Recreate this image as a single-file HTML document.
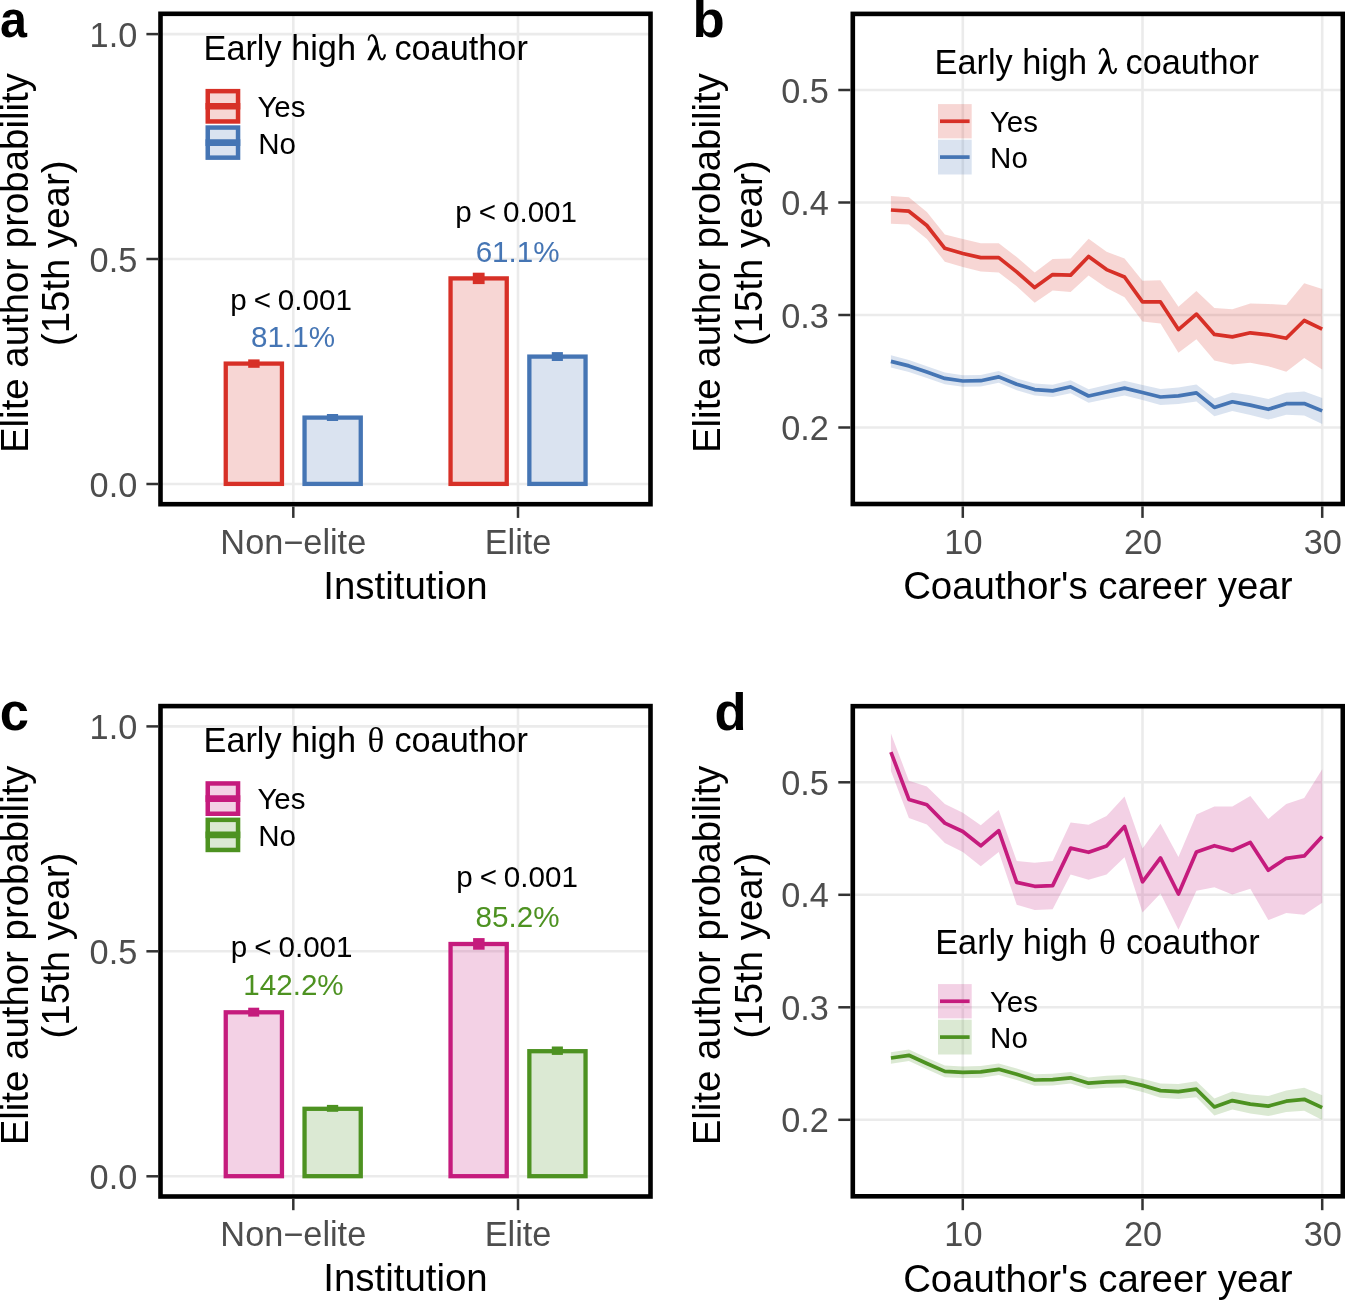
<!DOCTYPE html><html><head><meta charset="utf-8"><title>Figure</title><style>html,body{margin:0;padding:0;background:#fff;font-family:"Liberation Sans", sans-serif;}svg{display:block;will-change:transform;}</style></head><body>
<svg width="1345" height="1300" viewBox="0 0 1345 1300">
<rect x="0" y="0" width="1345" height="1300" fill="#fff"/>
<line x1="160.50" y1="34.10" x2="650.50" y2="34.10" stroke="#EBEBEB" stroke-width="2.6" stroke-linecap="butt"/>
<line x1="160.50" y1="259.00" x2="650.50" y2="259.00" stroke="#EBEBEB" stroke-width="2.6" stroke-linecap="butt"/>
<line x1="160.50" y1="484.00" x2="650.50" y2="484.00" stroke="#EBEBEB" stroke-width="2.6" stroke-linecap="butt"/>
<line x1="293.30" y1="13.80" x2="293.30" y2="504.20" stroke="#EBEBEB" stroke-width="2.6" stroke-linecap="butt"/>
<line x1="518.00" y1="13.80" x2="518.00" y2="504.20" stroke="#EBEBEB" stroke-width="2.6" stroke-linecap="butt"/>
<rect x="225.75" y="363.60" width="56.20" height="120.30" fill="rgba(215,48,39,0.2)" stroke="#D73027" stroke-width="4.3"/>
<rect x="248.20" y="359.40" width="11.40" height="8.40" fill="#D73027" stroke="none" stroke-width="0"/>
<rect x="304.55" y="417.60" width="56.20" height="66.30" fill="rgba(69,117,180,0.2)" stroke="#4575B4" stroke-width="4.3"/>
<rect x="326.90" y="414.00" width="11.20" height="7.00" fill="#4575B4" stroke="none" stroke-width="0"/>
<rect x="450.55" y="278.40" width="56.20" height="205.50" fill="rgba(215,48,39,0.2)" stroke="#D73027" stroke-width="4.3"/>
<rect x="472.80" y="272.70" width="11.80" height="11.40" fill="#D73027" stroke="none" stroke-width="0"/>
<rect x="529.35" y="356.60" width="56.20" height="127.30" fill="rgba(69,117,180,0.2)" stroke="#4575B4" stroke-width="4.3"/>
<rect x="551.80" y="352.10" width="11.10" height="8.90" fill="#4575B4" stroke="none" stroke-width="0"/>
<text x="291.10" y="309.50" font-size="29.6" fill="#000" text-anchor="middle" font-weight="normal" font-family="Liberation Sans, sans-serif" word-spacing="-1.3">p &lt; 0.001</text>
<text x="293.00" y="347.30" font-size="29.6" fill="#4575B4" text-anchor="middle" font-weight="normal" font-family="Liberation Sans, sans-serif" word-spacing="0">81.1%</text>
<text x="516.20" y="222.10" font-size="29.6" fill="#000" text-anchor="middle" font-weight="normal" font-family="Liberation Sans, sans-serif" word-spacing="-1.3">p &lt; 0.001</text>
<text x="517.60" y="262.00" font-size="29.6" fill="#4575B4" text-anchor="middle" font-weight="normal" font-family="Liberation Sans, sans-serif" word-spacing="0">61.1%</text>
<text x="203.50" y="60.30" font-size="34.3" fill="#000" text-anchor="start" font-weight="normal" font-family="Liberation Sans, sans-serif" >Early high</text>
<text x="394.40" y="60.30" font-size="34.3" fill="#000" text-anchor="start" font-weight="normal" font-family="Liberation Sans, sans-serif" >coauthor</text>
<g transform="translate(0.00,0.00)"><g fill="none" stroke="#000" stroke-linecap="butt" stroke-linejoin="round"><path d="M368.5 40.6 C368.8 37.4 370.0 35.2 372.0 35.2" stroke-width="1.8"/><path d="M371.6 35.2 C374.6 35.2 375.7 38.0 376.5 42.0 L377.9 50.2" stroke-width="2.6"/><path d="M377.8 49.8 C378.7 55.5 379.8 59.3 382.0 59.3 C383.6 59.3 384.5 57.5 385.0 54.3" stroke-width="2.2"/></g><polygon points="375.3,44.4 378.1,46.8 370.8,60.2 367.2,60.2" fill="#000"/></g>
<rect x="207.75" y="91.15" width="30.30" height="30.30" fill="rgba(215,48,39,0.2)" stroke="#D73027" stroke-width="4.5"/>
<line x1="205.50" y1="106.30" x2="240.30" y2="106.30" stroke="#D73027" stroke-width="6.6" stroke-linecap="butt"/>
<text x="257.40" y="116.80" font-size="29.5" fill="#000" text-anchor="start" font-weight="normal" font-family="Liberation Sans, sans-serif" >Yes</text>
<rect x="207.75" y="127.55" width="30.30" height="30.10" fill="rgba(69,117,180,0.2)" stroke="#4575B4" stroke-width="4.5"/>
<line x1="205.50" y1="142.60" x2="240.30" y2="142.60" stroke="#4575B4" stroke-width="6.6" stroke-linecap="butt"/>
<text x="258.30" y="153.60" font-size="29.5" fill="#000" text-anchor="start" font-weight="normal" font-family="Liberation Sans, sans-serif" >No</text>
<rect x="160.50" y="13.80" width="490.00" height="490.40" fill="none" stroke="#000" stroke-width="4.6"/>
<line x1="146.40" y1="34.10" x2="158.20" y2="34.10" stroke="#333333" stroke-width="2.5" stroke-linecap="butt"/>
<text x="137.30" y="46.60" font-size="34.3" fill="#4D4D4D" text-anchor="end" font-weight="normal" font-family="Liberation Sans, sans-serif" >1.0</text>
<line x1="146.40" y1="259.00" x2="158.20" y2="259.00" stroke="#333333" stroke-width="2.5" stroke-linecap="butt"/>
<text x="137.30" y="271.50" font-size="34.3" fill="#4D4D4D" text-anchor="end" font-weight="normal" font-family="Liberation Sans, sans-serif" >0.5</text>
<line x1="146.40" y1="484.00" x2="158.20" y2="484.00" stroke="#333333" stroke-width="2.5" stroke-linecap="butt"/>
<text x="137.30" y="496.50" font-size="34.3" fill="#4D4D4D" text-anchor="end" font-weight="normal" font-family="Liberation Sans, sans-serif" >0.0</text>
<line x1="293.30" y1="506.50" x2="293.30" y2="517.90" stroke="#333333" stroke-width="2.5" stroke-linecap="butt"/>
<text x="293.30" y="553.70" font-size="34.3" fill="#4D4D4D" text-anchor="middle" font-weight="normal" font-family="Liberation Sans, sans-serif" >Non&#8722;elite</text>
<line x1="518.00" y1="506.50" x2="518.00" y2="517.90" stroke="#333333" stroke-width="2.5" stroke-linecap="butt"/>
<text x="518.00" y="553.70" font-size="34.3" fill="#4D4D4D" text-anchor="middle" font-weight="normal" font-family="Liberation Sans, sans-serif" >Elite</text>
<text x="405.50" y="599.10" font-size="38.4" fill="#000" text-anchor="middle" font-weight="normal" font-family="Liberation Sans, sans-serif" >Institution</text>
<text transform="translate(28.00,263.10) rotate(-90)" font-size="38.4" font-family="Liberation Sans, sans-serif" text-anchor="middle" fill="#000">Elite author probability</text>
<text transform="translate(69.20,253.30) rotate(-90)" font-size="38.4" font-family="Liberation Sans, sans-serif" text-anchor="middle" fill="#000">(15th year)</text>
<text transform="translate(0.00,36.90) scale(0.95,1.03)" font-size="51" font-weight="bold" font-family="Liberation Sans, sans-serif" fill="#000">a</text>
<line x1="160.50" y1="726.40" x2="650.50" y2="726.40" stroke="#EBEBEB" stroke-width="2.6" stroke-linecap="butt"/>
<line x1="160.50" y1="951.30" x2="650.50" y2="951.30" stroke="#EBEBEB" stroke-width="2.6" stroke-linecap="butt"/>
<line x1="160.50" y1="1176.30" x2="650.50" y2="1176.30" stroke="#EBEBEB" stroke-width="2.6" stroke-linecap="butt"/>
<line x1="293.30" y1="706.10" x2="293.30" y2="1196.50" stroke="#EBEBEB" stroke-width="2.6" stroke-linecap="butt"/>
<line x1="518.00" y1="706.10" x2="518.00" y2="1196.50" stroke="#EBEBEB" stroke-width="2.6" stroke-linecap="butt"/>
<rect x="225.75" y="1012.30" width="56.20" height="163.90" fill="rgba(197,27,125,0.2)" stroke="#C51B7D" stroke-width="4.3"/>
<rect x="248.20" y="1007.70" width="11.00" height="8.90" fill="#C51B7D" stroke="none" stroke-width="0"/>
<rect x="304.55" y="1108.80" width="56.20" height="67.40" fill="rgba(77,146,33,0.2)" stroke="#4D9221" stroke-width="4.3"/>
<rect x="326.90" y="1104.90" width="11.30" height="6.90" fill="#4D9221" stroke="none" stroke-width="0"/>
<rect x="450.55" y="944.00" width="56.20" height="232.20" fill="rgba(197,27,125,0.2)" stroke="#C51B7D" stroke-width="4.3"/>
<rect x="473.10" y="938.10" width="11.50" height="11.60" fill="#C51B7D" stroke="none" stroke-width="0"/>
<rect x="529.35" y="1051.20" width="56.20" height="125.00" fill="rgba(77,146,33,0.2)" stroke="#4D9221" stroke-width="4.3"/>
<rect x="551.80" y="1046.50" width="11.10" height="8.40" fill="#4D9221" stroke="none" stroke-width="0"/>
<text x="291.70" y="957.40" font-size="29.6" fill="#000" text-anchor="middle" font-weight="normal" font-family="Liberation Sans, sans-serif" word-spacing="-1.3">p &lt; 0.001</text>
<text x="293.50" y="995.00" font-size="29.6" fill="#4D9221" text-anchor="middle" font-weight="normal" font-family="Liberation Sans, sans-serif" word-spacing="0">142.2%</text>
<text x="517.10" y="886.70" font-size="29.6" fill="#000" text-anchor="middle" font-weight="normal" font-family="Liberation Sans, sans-serif" word-spacing="-1.3">p &lt; 0.001</text>
<text x="517.50" y="926.90" font-size="29.6" fill="#4D9221" text-anchor="middle" font-weight="normal" font-family="Liberation Sans, sans-serif" word-spacing="0">85.2%</text>
<text x="203.50" y="751.60" font-size="34.3" fill="#000" text-anchor="start" font-weight="normal" font-family="Liberation Sans, sans-serif" >Early high</text>
<text x="394.40" y="751.60" font-size="34.3" fill="#000" text-anchor="start" font-weight="normal" font-family="Liberation Sans, sans-serif" >coauthor</text>
<text x="375.80" y="751.60" font-size="34.986" fill="#000" text-anchor="middle" font-weight="normal" font-family="Liberation Serif, sans-serif" >&#952;</text>
<rect x="207.75" y="783.45" width="30.30" height="30.30" fill="rgba(197,27,125,0.2)" stroke="#C51B7D" stroke-width="4.5"/>
<line x1="205.50" y1="798.60" x2="240.30" y2="798.60" stroke="#C51B7D" stroke-width="6.6" stroke-linecap="butt"/>
<text x="257.40" y="809.10" font-size="29.5" fill="#000" text-anchor="start" font-weight="normal" font-family="Liberation Sans, sans-serif" >Yes</text>
<rect x="207.75" y="819.85" width="30.30" height="30.10" fill="rgba(77,146,33,0.2)" stroke="#4D9221" stroke-width="4.5"/>
<line x1="205.50" y1="834.90" x2="240.30" y2="834.90" stroke="#4D9221" stroke-width="6.6" stroke-linecap="butt"/>
<text x="258.30" y="845.90" font-size="29.5" fill="#000" text-anchor="start" font-weight="normal" font-family="Liberation Sans, sans-serif" >No</text>
<rect x="160.50" y="706.10" width="490.00" height="490.40" fill="none" stroke="#000" stroke-width="4.6"/>
<line x1="146.40" y1="726.40" x2="158.20" y2="726.40" stroke="#333333" stroke-width="2.5" stroke-linecap="butt"/>
<text x="137.30" y="738.90" font-size="34.3" fill="#4D4D4D" text-anchor="end" font-weight="normal" font-family="Liberation Sans, sans-serif" >1.0</text>
<line x1="146.40" y1="951.30" x2="158.20" y2="951.30" stroke="#333333" stroke-width="2.5" stroke-linecap="butt"/>
<text x="137.30" y="963.80" font-size="34.3" fill="#4D4D4D" text-anchor="end" font-weight="normal" font-family="Liberation Sans, sans-serif" >0.5</text>
<line x1="146.40" y1="1176.30" x2="158.20" y2="1176.30" stroke="#333333" stroke-width="2.5" stroke-linecap="butt"/>
<text x="137.30" y="1188.80" font-size="34.3" fill="#4D4D4D" text-anchor="end" font-weight="normal" font-family="Liberation Sans, sans-serif" >0.0</text>
<line x1="293.30" y1="1198.80" x2="293.30" y2="1210.20" stroke="#333333" stroke-width="2.5" stroke-linecap="butt"/>
<text x="293.30" y="1246.00" font-size="34.3" fill="#4D4D4D" text-anchor="middle" font-weight="normal" font-family="Liberation Sans, sans-serif" >Non&#8722;elite</text>
<line x1="518.00" y1="1198.80" x2="518.00" y2="1210.20" stroke="#333333" stroke-width="2.5" stroke-linecap="butt"/>
<text x="518.00" y="1246.00" font-size="34.3" fill="#4D4D4D" text-anchor="middle" font-weight="normal" font-family="Liberation Sans, sans-serif" >Elite</text>
<text x="405.50" y="1291.40" font-size="38.4" fill="#000" text-anchor="middle" font-weight="normal" font-family="Liberation Sans, sans-serif" >Institution</text>
<text transform="translate(28.00,955.40) rotate(-90)" font-size="38.4" font-family="Liberation Sans, sans-serif" text-anchor="middle" fill="#000">Elite author probability</text>
<text transform="translate(69.20,945.60) rotate(-90)" font-size="38.4" font-family="Liberation Sans, sans-serif" text-anchor="middle" fill="#000">(15th year)</text>
<text transform="translate(-0.30,729.90) scale(1.03,1.04)" font-size="51" font-weight="bold" font-family="Liberation Sans, sans-serif" fill="#000">c</text>
<line x1="852.80" y1="90.00" x2="1342.80" y2="90.00" stroke="#EBEBEB" stroke-width="2.6" stroke-linecap="butt"/>
<line x1="852.80" y1="202.50" x2="1342.80" y2="202.50" stroke="#EBEBEB" stroke-width="2.6" stroke-linecap="butt"/>
<line x1="852.80" y1="315.00" x2="1342.80" y2="315.00" stroke="#EBEBEB" stroke-width="2.6" stroke-linecap="butt"/>
<line x1="852.80" y1="427.50" x2="1342.80" y2="427.50" stroke="#EBEBEB" stroke-width="2.6" stroke-linecap="butt"/>
<line x1="962.80" y1="13.90" x2="962.80" y2="504.00" stroke="#EBEBEB" stroke-width="2.6" stroke-linecap="butt"/>
<line x1="1142.50" y1="13.90" x2="1142.50" y2="504.00" stroke="#EBEBEB" stroke-width="2.6" stroke-linecap="butt"/>
<line x1="1322.20" y1="13.90" x2="1322.20" y2="504.00" stroke="#EBEBEB" stroke-width="2.6" stroke-linecap="butt"/>
<polygon points="890.92,196.10 908.89,197.30 926.86,212.10 944.83,234.40 962.80,238.90 980.77,243.30 998.74,243.30 1016.71,257.10 1034.68,272.40 1052.65,259.10 1070.62,258.50 1088.59,238.70 1106.56,251.70 1124.53,258.60 1142.50,280.80 1160.47,280.30 1178.44,306.70 1196.41,290.90 1214.38,307.90 1232.35,309.30 1250.32,303.50 1268.29,304.00 1286.26,305.00 1304.23,283.20 1322.20,289.00 1322.20,369.60 1304.23,358.00 1286.26,371.70 1268.29,366.30 1250.32,362.80 1232.35,364.40 1214.38,360.50 1196.41,339.20 1178.44,352.80 1160.47,323.40 1142.50,321.40 1124.53,297.30 1106.56,288.00 1088.59,275.40 1070.62,292.10 1052.65,290.60 1034.68,302.80 1016.71,286.20 998.74,272.40 980.77,271.40 962.80,266.90 944.83,261.70 926.86,238.90 908.89,224.60 890.92,223.70" fill="rgba(215,48,39,0.2)" stroke="none"/>
<polygon points="890.92,355.20 908.89,359.90 926.86,366.30 944.83,372.60 962.80,375.20 980.77,374.90 998.74,371.10 1016.71,378.40 1034.68,383.60 1052.65,384.70 1070.62,380.30 1088.59,389.30 1106.56,385.00 1124.53,380.80 1142.50,384.90 1160.47,389.10 1178.44,387.60 1196.41,384.40 1214.38,398.60 1232.35,392.50 1250.32,395.30 1268.29,399.00 1286.26,392.70 1304.23,391.50 1322.20,397.90 1322.20,423.90 1304.23,415.50 1286.26,414.70 1268.29,419.60 1250.32,414.90 1232.35,411.10 1214.38,416.20 1196.41,401.40 1178.44,404.00 1160.47,404.90 1142.50,400.10 1124.53,395.40 1106.56,399.00 1088.59,402.70 1070.62,393.30 1052.65,397.10 1034.68,395.60 1016.71,390.20 998.74,382.70 980.77,386.50 962.80,386.80 944.83,384.20 926.86,377.90 908.89,371.90 890.92,367.60" fill="rgba(69,117,180,0.2)" stroke="none"/>
<polyline points="890.92,210.00 908.89,211.20 926.86,225.50 944.83,248.30 962.80,253.50 980.77,257.60 998.74,257.60 1016.71,271.90 1034.68,287.60 1052.65,274.60 1070.62,275.10 1088.59,256.50 1106.56,269.60 1124.53,277.00 1142.50,301.90 1160.47,301.90 1178.44,329.60 1196.41,314.10 1214.38,334.40 1232.35,336.90 1250.32,332.80 1268.29,334.80 1286.26,338.30 1304.23,320.50 1322.20,329.20" fill="none" stroke="#D73027" stroke-width="3.7" stroke-linejoin="round" stroke-linecap="butt"/>
<polyline points="890.92,361.40 908.89,365.90 926.86,372.10 944.83,378.40 962.80,381.00 980.77,380.70 998.74,376.90 1016.71,384.30 1034.68,389.60 1052.65,390.90 1070.62,386.80 1088.59,396.00 1106.56,392.00 1124.53,388.10 1142.50,392.50 1160.47,397.00 1178.44,395.80 1196.41,392.90 1214.38,407.40 1232.35,401.80 1250.32,405.10 1268.29,409.30 1286.26,403.70 1304.23,403.50 1322.20,410.90" fill="none" stroke="#4575B4" stroke-width="3.7" stroke-linejoin="round" stroke-linecap="butt"/>
<text x="934.60" y="74.20" font-size="34.3" fill="#000" text-anchor="start" font-weight="normal" font-family="Liberation Sans, sans-serif" >Early high</text>
<text x="1125.50" y="74.20" font-size="34.3" fill="#000" text-anchor="start" font-weight="normal" font-family="Liberation Sans, sans-serif" >coauthor</text>
<g transform="translate(731.10,13.90)"><g fill="none" stroke="#000" stroke-linecap="butt" stroke-linejoin="round"><path d="M368.5 40.6 C368.8 37.4 370.0 35.2 372.0 35.2" stroke-width="1.8"/><path d="M371.6 35.2 C374.6 35.2 375.7 38.0 376.5 42.0 L377.9 50.2" stroke-width="2.6"/><path d="M377.8 49.8 C378.7 55.5 379.8 59.3 382.0 59.3 C383.6 59.3 384.5 57.5 385.0 54.3" stroke-width="2.2"/></g><polygon points="375.3,44.4 378.1,46.8 370.8,60.2 367.2,60.2" fill="#000"/></g>
<rect x="938.00" y="104.10" width="33.70" height="34.30" fill="rgba(215,48,39,0.2)" stroke="none" stroke-width="0"/>
<line x1="940.00" y1="121.25" x2="969.60" y2="121.25" stroke="#D73027" stroke-width="3.7" stroke-linecap="butt"/>
<text x="989.90" y="131.70" font-size="29.5" fill="#000" text-anchor="start" font-weight="normal" font-family="Liberation Sans, sans-serif" >Yes</text>
<rect x="938.00" y="139.70" width="33.70" height="34.80" fill="rgba(69,117,180,0.2)" stroke="none" stroke-width="0"/>
<line x1="940.00" y1="157.10" x2="969.60" y2="157.10" stroke="#4575B4" stroke-width="3.7" stroke-linecap="butt"/>
<text x="990.10" y="167.80" font-size="29.5" fill="#000" text-anchor="start" font-weight="normal" font-family="Liberation Sans, sans-serif" >No</text>
<rect x="852.80" y="13.90" width="490.00" height="490.10" fill="none" stroke="#000" stroke-width="4.6"/>
<line x1="838.30" y1="90.00" x2="850.50" y2="90.00" stroke="#333333" stroke-width="2.5" stroke-linecap="butt"/>
<text x="828.90" y="102.60" font-size="34.3" fill="#4D4D4D" text-anchor="end" font-weight="normal" font-family="Liberation Sans, sans-serif" >0.5</text>
<line x1="838.30" y1="202.50" x2="850.50" y2="202.50" stroke="#333333" stroke-width="2.5" stroke-linecap="butt"/>
<text x="828.90" y="215.10" font-size="34.3" fill="#4D4D4D" text-anchor="end" font-weight="normal" font-family="Liberation Sans, sans-serif" >0.4</text>
<line x1="838.30" y1="315.00" x2="850.50" y2="315.00" stroke="#333333" stroke-width="2.5" stroke-linecap="butt"/>
<text x="828.90" y="327.60" font-size="34.3" fill="#4D4D4D" text-anchor="end" font-weight="normal" font-family="Liberation Sans, sans-serif" >0.3</text>
<line x1="838.30" y1="427.50" x2="850.50" y2="427.50" stroke="#333333" stroke-width="2.5" stroke-linecap="butt"/>
<text x="828.90" y="440.10" font-size="34.3" fill="#4D4D4D" text-anchor="end" font-weight="normal" font-family="Liberation Sans, sans-serif" >0.2</text>
<line x1="962.80" y1="506.30" x2="962.80" y2="517.90" stroke="#333333" stroke-width="2.5" stroke-linecap="butt"/>
<text x="963.40" y="553.70" font-size="34.3" fill="#4D4D4D" text-anchor="middle" font-weight="normal" font-family="Liberation Sans, sans-serif" >10</text>
<line x1="1142.50" y1="506.30" x2="1142.50" y2="517.90" stroke="#333333" stroke-width="2.5" stroke-linecap="butt"/>
<text x="1143.10" y="553.70" font-size="34.3" fill="#4D4D4D" text-anchor="middle" font-weight="normal" font-family="Liberation Sans, sans-serif" >20</text>
<line x1="1322.20" y1="506.30" x2="1322.20" y2="517.90" stroke="#333333" stroke-width="2.5" stroke-linecap="butt"/>
<text x="1322.80" y="553.70" font-size="34.3" fill="#4D4D4D" text-anchor="middle" font-weight="normal" font-family="Liberation Sans, sans-serif" >30</text>
<text x="1097.80" y="599.30" font-size="38.4" fill="#000" text-anchor="middle" font-weight="normal" font-family="Liberation Sans, sans-serif" >Coauthor's career year</text>
<text transform="translate(720.00,263.10) rotate(-90)" font-size="38.4" font-family="Liberation Sans, sans-serif" text-anchor="middle" fill="#000">Elite author probability</text>
<text transform="translate(761.50,253.30) rotate(-90)" font-size="38.4" font-family="Liberation Sans, sans-serif" text-anchor="middle" fill="#000">(15th year)</text>
<text transform="translate(692.50,36.50) scale(1.035,1)" font-size="51" font-weight="bold" font-family="Liberation Sans, sans-serif" fill="#000">b</text>
<line x1="852.80" y1="782.30" x2="1342.80" y2="782.30" stroke="#EBEBEB" stroke-width="2.6" stroke-linecap="butt"/>
<line x1="852.80" y1="894.80" x2="1342.80" y2="894.80" stroke="#EBEBEB" stroke-width="2.6" stroke-linecap="butt"/>
<line x1="852.80" y1="1007.30" x2="1342.80" y2="1007.30" stroke="#EBEBEB" stroke-width="2.6" stroke-linecap="butt"/>
<line x1="852.80" y1="1119.80" x2="1342.80" y2="1119.80" stroke="#EBEBEB" stroke-width="2.6" stroke-linecap="butt"/>
<line x1="962.80" y1="706.20" x2="962.80" y2="1196.30" stroke="#EBEBEB" stroke-width="2.6" stroke-linecap="butt"/>
<line x1="1142.50" y1="706.20" x2="1142.50" y2="1196.30" stroke="#EBEBEB" stroke-width="2.6" stroke-linecap="butt"/>
<line x1="1322.20" y1="706.20" x2="1322.20" y2="1196.30" stroke="#EBEBEB" stroke-width="2.6" stroke-linecap="butt"/>
<polygon points="890.92,733.40 908.89,780.70 926.86,786.40 944.83,803.90 962.80,812.80 980.77,825.30 998.74,810.10 1016.71,861.00 1034.68,862.80 1052.65,861.00 1070.62,822.60 1088.59,824.70 1106.56,816.00 1124.53,796.40 1142.50,848.60 1160.47,823.80 1178.44,856.90 1196.41,814.40 1214.38,806.40 1232.35,806.40 1250.32,796.00 1268.29,819.00 1286.26,804.10 1304.23,797.90 1322.20,769.30 1322.20,902.70 1304.23,914.70 1286.26,913.00 1268.29,920.10 1250.32,888.80 1232.35,894.60 1214.38,887.30 1196.41,890.70 1178.44,929.80 1160.47,893.40 1142.50,912.40 1124.53,857.30 1106.56,874.60 1088.59,879.80 1070.62,874.40 1052.65,909.20 1034.68,910.00 1016.71,904.70 998.74,852.00 980.77,866.30 962.80,852.00 944.83,843.10 926.86,824.40 908.89,818.10 890.92,770.90" fill="rgba(197,27,125,0.2)" stroke="none"/>
<polygon points="890.92,1052.20 908.89,1049.50 926.86,1057.70 944.83,1065.60 962.80,1066.50 980.77,1066.10 998.74,1063.50 1016.71,1068.50 1034.68,1074.20 1052.65,1073.80 1070.62,1072.00 1088.59,1077.40 1106.56,1075.80 1124.53,1075.00 1142.50,1078.70 1160.47,1083.50 1178.44,1084.10 1196.41,1081.20 1214.38,1098.50 1232.35,1091.60 1250.32,1094.60 1268.29,1096.10 1286.26,1090.50 1304.23,1087.80 1322.20,1095.30 1322.20,1119.90 1304.23,1110.80 1286.26,1111.90 1268.29,1116.10 1250.32,1113.60 1232.35,1109.60 1214.38,1115.50 1196.41,1097.20 1178.44,1099.10 1160.47,1097.70 1142.50,1092.10 1124.53,1087.60 1106.56,1087.80 1088.59,1089.00 1070.62,1083.60 1052.65,1085.40 1034.68,1085.80 1016.71,1080.10 998.74,1075.10 980.77,1077.70 962.80,1078.10 944.83,1077.20 926.86,1069.30 908.89,1061.10 890.92,1063.80" fill="rgba(77,146,33,0.2)" stroke="none"/>
<polyline points="890.92,752.10 908.89,799.40 926.86,804.80 944.83,823.10 962.80,831.50 980.77,845.80 998.74,830.60 1016.71,882.40 1034.68,886.30 1052.65,885.60 1070.62,848.10 1088.59,852.30 1106.56,846.00 1124.53,826.40 1142.50,881.80 1160.47,857.90 1178.44,894.00 1196.41,852.10 1214.38,845.70 1232.35,850.50 1250.32,842.40 1268.29,870.20 1286.26,858.30 1304.23,855.90 1322.20,836.60" fill="none" stroke="#C51B7D" stroke-width="3.7" stroke-linejoin="round" stroke-linecap="butt"/>
<polyline points="890.92,1058.00 908.89,1055.30 926.86,1063.50 944.83,1071.40 962.80,1072.30 980.77,1071.90 998.74,1069.30 1016.71,1074.30 1034.68,1080.00 1052.65,1079.60 1070.62,1077.80 1088.59,1083.20 1106.56,1081.80 1124.53,1081.30 1142.50,1085.40 1160.47,1090.60 1178.44,1091.60 1196.41,1089.20 1214.38,1107.00 1232.35,1100.60 1250.32,1104.10 1268.29,1106.10 1286.26,1101.20 1304.23,1099.30 1322.20,1107.60" fill="none" stroke="#4D9221" stroke-width="3.7" stroke-linejoin="round" stroke-linecap="butt"/>
<text x="935.20" y="954.20" font-size="34.3" fill="#000" text-anchor="start" font-weight="normal" font-family="Liberation Sans, sans-serif" >Early high</text>
<text x="1126.10" y="954.20" font-size="34.3" fill="#000" text-anchor="start" font-weight="normal" font-family="Liberation Sans, sans-serif" >coauthor</text>
<text x="1107.50" y="954.20" font-size="34.986" fill="#000" text-anchor="middle" font-weight="normal" font-family="Liberation Serif, sans-serif" >&#952;</text>
<rect x="938.00" y="984.10" width="33.70" height="34.30" fill="rgba(197,27,125,0.2)" stroke="none" stroke-width="0"/>
<line x1="940.00" y1="1001.25" x2="969.60" y2="1001.25" stroke="#C51B7D" stroke-width="3.7" stroke-linecap="butt"/>
<text x="989.90" y="1011.70" font-size="29.5" fill="#000" text-anchor="start" font-weight="normal" font-family="Liberation Sans, sans-serif" >Yes</text>
<rect x="938.00" y="1019.70" width="33.70" height="34.80" fill="rgba(77,146,33,0.2)" stroke="none" stroke-width="0"/>
<line x1="940.00" y1="1037.10" x2="969.60" y2="1037.10" stroke="#4D9221" stroke-width="3.7" stroke-linecap="butt"/>
<text x="990.10" y="1047.80" font-size="29.5" fill="#000" text-anchor="start" font-weight="normal" font-family="Liberation Sans, sans-serif" >No</text>
<rect x="852.80" y="706.20" width="490.00" height="490.10" fill="none" stroke="#000" stroke-width="4.6"/>
<line x1="838.30" y1="782.30" x2="850.50" y2="782.30" stroke="#333333" stroke-width="2.5" stroke-linecap="butt"/>
<text x="828.90" y="794.90" font-size="34.3" fill="#4D4D4D" text-anchor="end" font-weight="normal" font-family="Liberation Sans, sans-serif" >0.5</text>
<line x1="838.30" y1="894.80" x2="850.50" y2="894.80" stroke="#333333" stroke-width="2.5" stroke-linecap="butt"/>
<text x="828.90" y="907.40" font-size="34.3" fill="#4D4D4D" text-anchor="end" font-weight="normal" font-family="Liberation Sans, sans-serif" >0.4</text>
<line x1="838.30" y1="1007.30" x2="850.50" y2="1007.30" stroke="#333333" stroke-width="2.5" stroke-linecap="butt"/>
<text x="828.90" y="1019.90" font-size="34.3" fill="#4D4D4D" text-anchor="end" font-weight="normal" font-family="Liberation Sans, sans-serif" >0.3</text>
<line x1="838.30" y1="1119.80" x2="850.50" y2="1119.80" stroke="#333333" stroke-width="2.5" stroke-linecap="butt"/>
<text x="828.90" y="1132.40" font-size="34.3" fill="#4D4D4D" text-anchor="end" font-weight="normal" font-family="Liberation Sans, sans-serif" >0.2</text>
<line x1="962.80" y1="1198.60" x2="962.80" y2="1210.20" stroke="#333333" stroke-width="2.5" stroke-linecap="butt"/>
<text x="963.40" y="1246.00" font-size="34.3" fill="#4D4D4D" text-anchor="middle" font-weight="normal" font-family="Liberation Sans, sans-serif" >10</text>
<line x1="1142.50" y1="1198.60" x2="1142.50" y2="1210.20" stroke="#333333" stroke-width="2.5" stroke-linecap="butt"/>
<text x="1143.10" y="1246.00" font-size="34.3" fill="#4D4D4D" text-anchor="middle" font-weight="normal" font-family="Liberation Sans, sans-serif" >20</text>
<line x1="1322.20" y1="1198.60" x2="1322.20" y2="1210.20" stroke="#333333" stroke-width="2.5" stroke-linecap="butt"/>
<text x="1322.80" y="1246.00" font-size="34.3" fill="#4D4D4D" text-anchor="middle" font-weight="normal" font-family="Liberation Sans, sans-serif" >30</text>
<text x="1097.80" y="1291.60" font-size="38.4" fill="#000" text-anchor="middle" font-weight="normal" font-family="Liberation Sans, sans-serif" >Coauthor's career year</text>
<text transform="translate(720.00,955.40) rotate(-90)" font-size="38.4" font-family="Liberation Sans, sans-serif" text-anchor="middle" fill="#000">Elite author probability</text>
<text transform="translate(761.50,945.60) rotate(-90)" font-size="38.4" font-family="Liberation Sans, sans-serif" text-anchor="middle" fill="#000">(15th year)</text>
<text transform="translate(714.40,729.60) scale(1.03,1)" font-size="51" font-weight="bold" font-family="Liberation Sans, sans-serif" fill="#000">d</text>
</svg></body></html>
